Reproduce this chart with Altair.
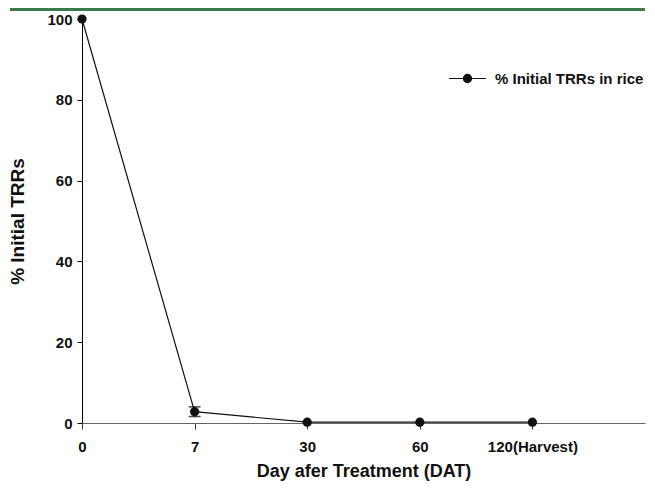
import altair as alt
import pandas as pd

days = ["0", "7", "30", "60", "120(Harvest)"]
pct = [100.0, 2.8, 0.2, 0.2, 0.2]
err_lo = [None, 1.6, None, None, None]
err_hi = [None, 4.0, None, None, None]
series = "% Initial TRRs in rice"

df = pd.DataFrame({
    "idx": list(range(len(days))),
    "day": days,
    "pct": pct,
    "lo": err_lo,
    "hi": err_hi,
    "series": [series] * len(days),
})
err_df = df.dropna(subset=["lo"])

FONT = "Liberation Sans"
label_expr = "[" + ",".join(f"'{d}'" for d in days) + "][datum.value]"

x = alt.X("idx:Q", scale=alt.Scale(domain=[0, 5], nice=False, zero=False),
          axis=alt.Axis(values=list(range(len(days))), labelExpr=label_expr,
                        title="Day afer Treatment (DAT)", grid=False,
                        domainColor="#666666", tickColor="#333333", tickSize=6,
                        labelPadding=10, labelFontSize=15, labelFontWeight="bold",
                        labelFont=FONT, labelColor="#111111",
                        titleFont=FONT, titleFontSize=18, titleFontWeight="bold",
                        titlePadding=8, titleColor="#111111", labelFlush=False))
y = alt.Y("pct:Q", scale=alt.Scale(domain=[0, 100], nice=False),
          axis=alt.Axis(values=[0, 20, 40, 60, 80, 100], title="% Initial TRRs",
                        grid=False, domainColor="#000000", tickColor="#000000",
                        tickSize=5, labelPadding=5, labelFontSize=15,
                        labelFontWeight="bold", labelFont=FONT, labelColor="#111111",
                        titleFont=FONT, titleFontSize=19, titleFontWeight="bold",
                        titlePadding=19, titleColor="#111111"))

legend_path = ("M-1,0 L-0.22,0 M0.22,0 L1,0 "
               "M-0.22,0 A0.22,0.22 0 1,1 0.22,0 A0.22,0.22 0 1,1 -0.22,0 Z")

color = alt.Color("series:N", scale=alt.Scale(range=["#111111"]),
                  legend=alt.Legend(title=None, orient="none", legendX=366, legendY=40,
                                    symbolType=legend_path, symbolSize=1369,
                                    symbolStrokeWidth=1.2, symbolFillColor="#111111",
                                    symbolStrokeColor="#111111", padding=0,
                                    labelFont=FONT, labelFontSize=15,
                                    labelFontWeight="bold", labelColor="#111111",
                                    labelOffset=8, labelLimit=300))

base = alt.Chart(df)
line = base.mark_line(strokeWidth=1.2, color="#111111").encode(x=x, y=y, color=color)
pts = base.mark_point(filled=True, size=85, opacity=1, color="#111111").encode(
    x=x, y=y, color=alt.Color("series:N", legend=None, scale=alt.Scale(range=["#111111"])))
err = alt.Chart(err_df).mark_errorbar(ticks=alt.MarkConfig(size=12), color="#000000",
                                      thickness=1.5).encode(
    x=alt.X("idx:Q"), y=alt.Y("lo:Q", title="% Initial TRRs"), y2="hi:Q")
topline = alt.Chart(df).mark_rule(color="#3a7a4b", strokeWidth=3).encode(
    x=alt.value(-72), x2=alt.value(563), y=alt.value(-9.5))

chart = alt.layer(topline, err, line, pts).properties(
    width=563, height=404,
    padding={"left": 74, "top": 11, "right": 2, "bottom": 58},
    autosize=alt.AutoSizeParams(type="none"),
    background="white",
).configure_view(stroke=None)

chart.save("out.html", embed_options={"renderer": "svg", "actions": False})
